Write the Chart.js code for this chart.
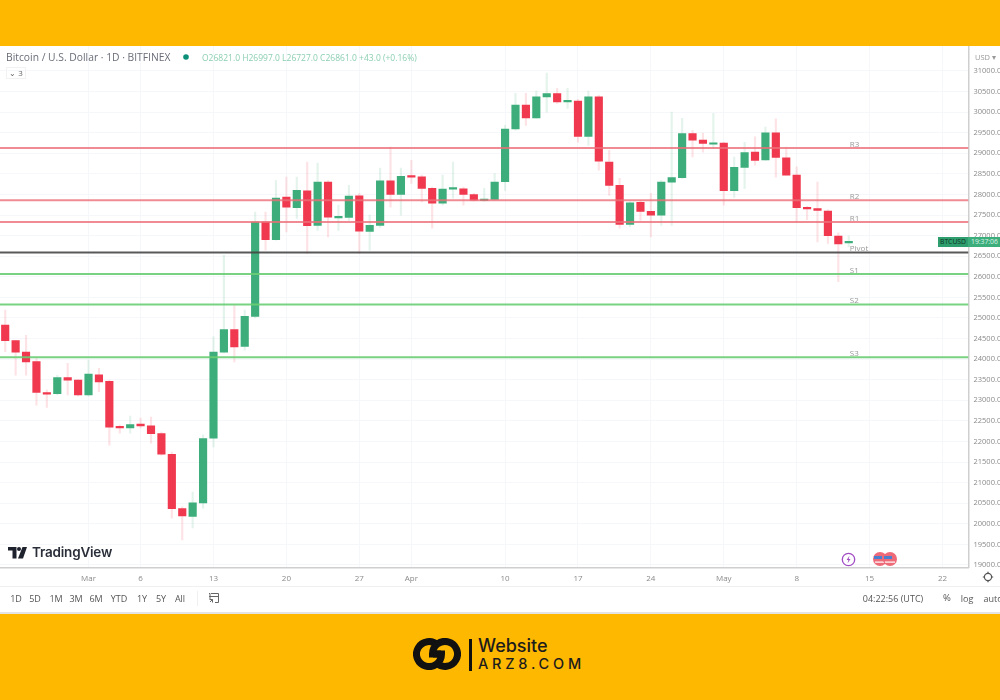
<!DOCTYPE html>
<html>
<head>
<meta charset="utf-8">
<title>Bitcoin / U.S. Dollar</title>
<script src="https://cdn.jsdelivr.net/npm/chart.js@4/dist/chart.umd.js"></script>
<style>
  html, body { margin: 0; padding: 0; background: #fff; }
  #page { position: relative; width: 1000px; height: 700px; overflow: hidden; background: #fff; font-family: "Open Sans", sans-serif; filter: blur(0.35px); }
  #chart { position: absolute; left: 0; top: 0; }
  .band { position: absolute; left: 0; width: 1000px; background: #ffb800; }
  .txt { position: absolute; white-space: nowrap; line-height: 1; }
  .tool { top: 593.5px; font-size: 9px; color: #555; transform: translateX(-50%); }
  .rule { position: absolute; background: #e4e4e4; }
  svg { position: absolute; }
</style>
</head>
<body>
<div id="page">
  <canvas id="chart" width="1000" height="700"></canvas>

  <div class="band" style="top:0;height:46px"></div>
  <div class="band" style="top:613.5px;height:86.5px"></div>

  <div class="txt" style="left:6px;top:52px;font-size:10.3px;color:#6a6d78">Bitcoin / U.S. Dollar · 1D · BITFINEX</div>
  <svg style="left:182px;top:53px" width="8" height="8"><circle cx="4" cy="4" r="2.8" fill="#0b8f78"/></svg>
  <div class="txt" style="left:202px;top:53.5px;font-size:8.5px;color:#8ccfb2">O26821.0 H26997.0 L26727.0 C26861.0 +43.0 (+0.16%)</div>
  <div class="txt" style="left:6px;top:67px;width:20px;height:12px;border:1px solid #f2f2f2;box-sizing:border-box;font-size:8px;color:#666;line-height:10px;text-align:center">⌄ 3</div>
  <div class="txt" style="left:975px;top:53.5px;font-size:7.5px;color:#999">USD ▾</div>

  <svg style="left:8px;top:547px" width="20" height="12">
    <path d="M0 0H8.5V11.5H4.5V3.5H0Z" fill="#1e222d"/>
    <circle cx="11" cy="2" r="2" fill="#1e222d"/>
    <path d="M14.5 0H19L15 11.5H10Z" fill="#1e222d"/>
  </svg>
  <div class="txt" style="left:32px;top:546px;font-family:Inter,sans-serif;font-size:13.5px;font-weight:600;color:#2a2e39;letter-spacing:-.2px">TradingView</div>

  <svg style="left:841px;top:552px" width="15" height="15">
    <circle cx="7.5" cy="7.5" r="6.2" fill="#fff" stroke="#a24cc4" stroke-width="1.3"/>
    <path d="M8.5 3.8L5.6 8H7.4L6.6 11.2L9.5 7H7.7Z" fill="#a24cc4"/>
  </svg>
  <svg style="left:871px;top:551px" width="28" height="16">
    <circle cx="9" cy="8" r="7" fill="#ee6a78"/><path d="M3 5H11V8H3Z" fill="#4a7fd0"/><path d="M4 10.5H14V11.7H4Z" fill="#fff"/>
    <circle cx="19" cy="8" r="7" fill="#ee6a78"/><path d="M13 5H21V8H13Z" fill="#4a7fd0"/><path d="M14 10.5H24V11.7H14Z" fill="#fff"/>
  </svg>

  <div class="rule" style="left:0;top:586px;width:1000px;height:1px;background:#f0f0f0"></div>
  <div class="rule" style="left:0;top:611.5px;width:1000px;height:2px"></div>
  <div class="rule" style="left:197px;top:591px;width:1px;height:15px;background:#f0f0f0"></div>

  <div class="txt tool" style="left:16px">1D</div>
  <div class="txt tool" style="left:35px">5D</div>
  <div class="txt tool" style="left:56px">1M</div>
  <div class="txt tool" style="left:76px">3M</div>
  <div class="txt tool" style="left:96px">6M</div>
  <div class="txt tool" style="left:119px">YTD</div>
  <div class="txt tool" style="left:142px">1Y</div>
  <div class="txt tool" style="left:161px">5Y</div>
  <div class="txt tool" style="left:180px">All</div>
  <svg style="left:208px;top:592px" width="12" height="12" fill="none" stroke="#666" stroke-width="1">
    <path d="M1 4.5H11M3 1.5H10.5V10.5H7M1 1.5H2V8M2 10L4.5 7.5M4.5 10.5V7.5H2"/>
  </svg>
  <div class="txt tool" style="left:893px">04:22:56 (UTC)</div>
  <div class="txt tool" style="left:947px;font-size:9.5px;top:593px">%</div>
  <div class="txt tool" style="left:967px">log</div>
  <div class="txt tool" style="left:993px">auto</div>
  <svg style="left:982px;top:571px" width="12" height="12" fill="none" stroke="#555" stroke-width="1.2"><circle cx="6" cy="6" r="3.6"/><path d="M6 .8V2.4M6 9.6V11.2M.8 6H2.4M9.6 6H11.2"/></svg>

  <div class="txt" style="left:938px;top:236.5px;width:30px;height:10px;background:#2f9e6e;color:#0e3324;font-size:6.8px;line-height:10px;text-align:center">BTCUSD</div>
  <div class="txt" style="left:968px;top:236.5px;width:32px;height:10px;background:#3cae7c;color:#dff3ea;font-size:6.8px;line-height:10px;padding-left:3px;overflow:hidden">19:37:06</div>

  <svg style="left:413px;top:638px" width="48" height="32" fill="none" stroke="#111" stroke-width="7">
    <path d="M24.8 7.2A12.5 12.5 0 1 0 28.5 16H20"/>
    <path d="M23.2 24.8A12.5 12.5 0 1 0 19.5 16H28"/>
  </svg>
  <div class="rule" style="left:469px;top:639px;width:2.5px;height:32px;background:#111"></div>
  <div class="txt" style="left:478px;top:637px;font-family:Inter,sans-serif;font-size:18px;font-weight:500;color:#1c1c1c">Website</div>
  <div class="txt" style="left:478px;top:657px;font-family:Inter,sans-serif;font-size:14.5px;font-weight:500;letter-spacing:3.8px;color:#1c1c1c">ARZ8.COM</div>
</div>

<script>
const dates = [
  "Feb 21", "Feb 22", "Feb 23", "Feb 24", "Feb 25", "Feb 26", "Feb 27", "Feb 28",
  "Mar 1", "Mar 2", "Mar 3", "Mar 4", "Mar 5", "Mar 6", "Mar 7", "Mar 8", "Mar 9", "Mar 10",
  "Mar 11", "Mar 12", "Mar 13", "Mar 14", "Mar 15", "Mar 16", "Mar 17", "Mar 18", "Mar 19", "Mar 20",
  "Mar 21", "Mar 22", "Mar 23", "Mar 24", "Mar 25", "Mar 26", "Mar 27", "Mar 28", "Mar 29", "Mar 30", "Mar 31",
  "Apr 1", "Apr 2", "Apr 3", "Apr 4", "Apr 5", "Apr 6", "Apr 7", "Apr 8", "Apr 9", "Apr 10",
  "Apr 11", "Apr 12", "Apr 13", "Apr 14", "Apr 15", "Apr 16", "Apr 17", "Apr 18", "Apr 19", "Apr 20",
  "Apr 21", "Apr 22", "Apr 23", "Apr 24", "Apr 25", "Apr 26", "Apr 27", "Apr 28", "Apr 29", "Apr 30",
  "May 1", "May 2", "May 3", "May 4", "May 5", "May 6", "May 7", "May 8", "May 9", "May 10",
  "May 11", "May 12", "May 13", "May 14", "May 15", "May 16", "May 17", "May 18", "May 19", "May 20",
  "May 21", "May 22", "May 23", "May 24"
];

const opens = [
  24830, 24450, 24170, 23940, 23190, 23160, 23550, 23490,
  23130, 23620, 23460, 22360, 22330, 22420, 22380, 22190, 21690, 20370,
  20180, 20510, 22080, 24170, 24720, 24310, 25040, 27330, 26900, 27940,
  27680, 28090, 27250, 28300, 27430, 27440, 27970, 27100, 27250, 28330, 28000,
  28430, 28430, 28150, 27790, 28130, 28140, 28000, 27850, 27880, 28310,
  29590, 30170, 29860, 30370, 30450, 30250, 30270, 29410, 30370, 28790,
  28220, 27270, 27810, 27590, 27500, 28300, 28410, 29480, 29320, 29220,
  29250, 28090, 28660, 29030, 28840, 29500, 28890, 28470, 27690, 27660,
  27600, 26990, 26821
];
const highs = [
  25190, 24460, 24580, 24020, 23250, 23610, 23900, 23500,
  23980, 23780, 23490, 22400, 22620, 22570, 22590, 22230, 21740, 20410,
  20770, 22160, 24540, 26520, 25310, 25190, 27570, 27570, 28340, 28420,
  28420, 28790, 28760, 28340, 27740, 28220, 28030, 27500, 28640, 29150, 28640,
  28830, 28470, 28180, 28470, 28790, 28180, 28030, 28150, 28510, 29680,
  30460, 30460, 30510, 30950, 30580, 30580, 30310, 30510, 30410, 29070,
  28390, 27820, 27860, 28030, 28340, 30000, 29850, 29560, 29490, 29970,
  29270, 28910, 29270, 29400, 29640, 29840, 29150, 28670, 27710, 28300,
  27630, 27070, 26997
];
const lows = [
  24180, 23610, 23610, 22880, 22830, 23130, 23130, 23100,
  23100, 23210, 21910, 22200, 22200, 22330, 21960, 21670, 20140, 19610,
  19900, 20380, 21870, 24150, 23930, 24220, 25000, 26650, 26890, 27090,
  27420, 26570, 27130, 26970, 27130, 27370, 26570, 26650, 27200, 27690, 27500,
  28270, 27820, 27180, 27740, 27910, 27740, 27840, 27830, 27860, 28100,
  29560, 29680, 29850, 30000, 30210, 30090, 29270, 29190, 28590, 27980,
  27180, 27210, 27370, 26970, 27250, 27250, 28390, 28910, 29030, 29120,
  27740, 27930, 28150, 28710, 28830, 28420, 28470, 27330, 27390, 26850,
  26810, 25880, 26727
];
const closes = [
  24450, 24170, 23930, 23190, 23150, 23550, 23490, 23130,
  23640, 23450, 22350, 22330, 22410, 22380, 22190, 21690, 20370, 20190,
  20510, 22070, 24170, 24720, 24300, 25040, 27330, 26900, 27910, 27690,
  28100, 27240, 28300, 27450, 27470, 27960, 27110, 27250, 28330, 28000, 28440,
  28420, 28150, 27790, 28130, 28160, 28000, 27860, 27880, 28300, 29590,
  30170, 29860, 30370, 30450, 30250, 30290, 29410, 30370, 28810, 28220,
  27270, 27800, 27590, 27500, 28300, 28410, 29480, 29320, 29240, 29250,
  28090, 28660, 29020, 28830, 29500, 28900, 28470, 27680, 27650, 27610,
  27000, 26800, 26861
];

const levelNames = ["R3", "R2", "R1", "Pivot", "S1", "S2", "S3"];
const levelValues = [29128, 27859, 27332, 26590, 26070, 25328, 24049];

const priceTicks = [
  19000, 19500, 20000, 20500, 21000, 21500, 22000, 22500, 23000, 23500, 24000, 24500, 25000,
  25500, 26000, 26500, 27000, 27500, 28000, 28500, 29000, 29500, 30000, 30500, 31000
];
const tickDates = ["Mar 1", "Mar 6", "Mar 13", "Mar 20", "Mar 27", "Apr 1", "Apr 10", "Apr 17", "Apr 24", "May 1", "May 8", "May 15", "May 22"];
const tickLabels = ["Mar", "6", "13", "20", "27", "Apr", "10", "17", "24", "May", "8", "15", "22"];

const UP = "#3dae7b";
const DOWN = "#f0394f";
const UP_WICK = "rgba(61,174,123,0.14)";
const DOWN_WICK = "rgba(240,57,79,0.14)";
const isUp = (i) => closes[i] >= opens[i];

function levelColor(name) {
  if (name === "Pivot") return "rgba(70,70,70,0.9)";
  return name[0] === "R" ? "rgba(236,110,120,0.8)" : "rgba(105,205,115,0.9)";
}

// level names sit just above their lines, over the last candle
const levelLabels = {
  id: "levelLabels",
  afterDatasetsDraw(chart) {
    const { ctx, scales } = chart;
    const left = scales.x.getPixelForValue(dates.indexOf("May 13"));
    ctx.save();
    ctx.font = '8px "Open Sans", sans-serif';
    ctx.fillStyle = "#9a9a9a";
    ctx.textAlign = "left";
    ctx.textBaseline = "middle";
    levelNames.forEach((name, i) => {
      ctx.fillText(name, left + 1, scales.y.getPixelForValue(levelValues[i]) - 3.5);
    });
    ctx.restore();
  }
};

const levelDatasets = levelNames.map((name, i) => ({
  type: "line",
  label: name,
  xAxisID: "span",
  data: [{ x: 0, y: levelValues[i] }, { x: 1, y: levelValues[i] }],
  borderColor: levelColor(name),
  borderWidth: 2,
  pointRadius: 0,
  order: 0
}));

new Chart(document.getElementById("chart"), {
  type: "bar",
  data: {
    labels: dates,
    datasets: [
      ...levelDatasets,
      {
        label: "Body",
        data: opens.map((open, i) => [open, closes[i]]),
        backgroundColor: opens.map((_, i) => (isUp(i) ? UP : DOWN)),
        barThickness: 7.5,
        minBarLength: 1.5,
        order: 1
      },
      {
        label: "Wick",
        data: lows.map((low, i) => [low, highs[i]]),
        backgroundColor: lows.map((_, i) => (isUp(i) ? UP_WICK : DOWN_WICK)),
        barThickness: 1.5,
        order: 2
      }
    ]
  },
  options: {
    responsive: false,
    animation: false,
    layout: { padding: { left: 0, right: 0, top: 46, bottom: 0 } },
    datasets: { bar: { grouped: false } },
    plugins: {
      legend: { display: false },
      tooltip: { enabled: false }
    },
    scales: {
      x: {
        type: "category",
        offset: true,
        afterBuildTicks(scale) {
          scale.ticks = tickDates.map((d) => ({ value: dates.indexOf(d) }));
        },
        afterFit(scale) {
          scale.height = 132.5;
        },
        grid: { offset: false, color: "#f6f7fa", drawTicks: false },
        border: { color: "#cfcfcf", width: 1.5 },
        ticks: {
          autoSkip: false,
          maxRotation: 0,
          padding: 6,
          color: "#8a8a8a",
          font: { family: "Open Sans", size: 8 },
          callback(value) {
            return tickLabels[tickDates.indexOf(this.getLabelForValue(value))];
          }
        }
      },
      span: { type: "linear", display: false, offset: false, min: 0, max: 1 },
      y: {
        position: "right",
        min: 18939,
        max: 31607,
        afterBuildTicks(scale) {
          scale.ticks = priceTicks.map((value) => ({ value }));
        },
        afterFit(scale) {
          scale.width = 31.5;
        },
        grid: { color: "#f6f7fa", drawTicks: false },
        border: { color: "#cfcfcf", width: 1.5 },
        ticks: {
          padding: 5,
          color: "#8a8a8a",
          font: { family: "Open Sans", size: 7.5 },
          callback: (value) => value.toFixed(1)
        }
      }
    }
  },
  plugins: [levelLabels]
});
</script>
</body>
</html>
